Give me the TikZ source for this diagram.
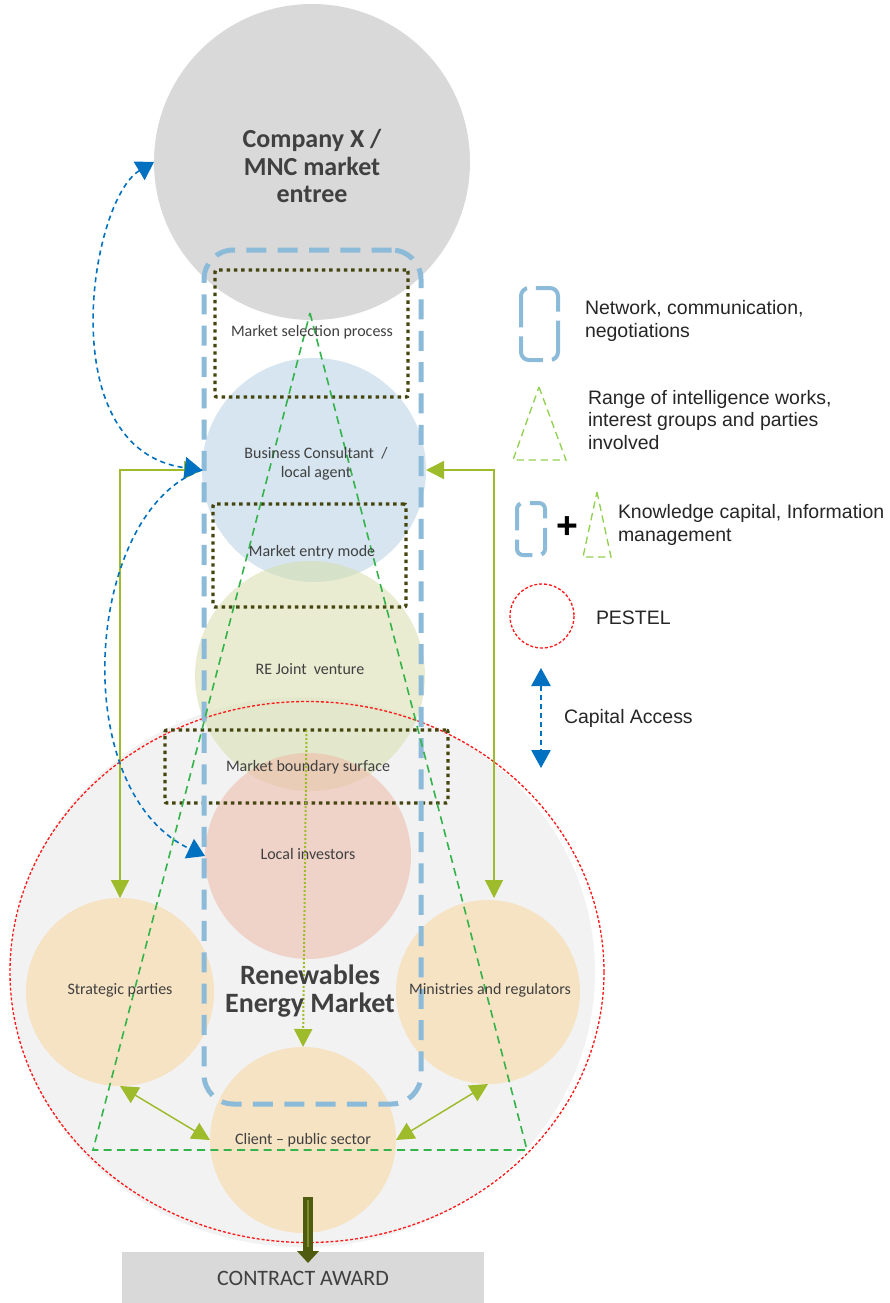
\documentclass[tikz,border=0pt]{standalone}
\usepackage{fontspec}
\setmainfont{Carlito}
\newfontfamily\legendfont{Liberation Sans}
\usetikzlibrary{arrows.meta,calc,shapes.geometric}

\definecolor{inkgray}{HTML}{404040}
\definecolor{legendink}{HTML}{262626}
\definecolor{companygray}{HTML}{D9D9D9}
\definecolor{marketgray}{HTML}{F2F2F2}
\definecolor{consultblue}{HTML}{B6D0E2}
\definecolor{jvgreen}{HTML}{D7DEAB}
\definecolor{investorpink}{HTML}{EEB8A6}
\definecolor{peach}{HTML}{F6E3C3}
\definecolor{netblue}{HTML}{8CBAD9}
\definecolor{boxolive}{HTML}{45450F}
\definecolor{rangegreen}{HTML}{33B44A}
\definecolor{legendgreen}{HTML}{92D050}
\definecolor{linkolive}{HTML}{9DBB2A}
\definecolor{capblue}{HTML}{0070C0}
\definecolor{pestelred}{HTML}{FF1A1A}
\definecolor{awardolive}{HTML}{4F5B0E}
\definecolor{awardlight}{HTML}{7D8C2C}

\tikzset{
  ltip/.tip={Triangle[length=13.5pt,width=13.5pt]},
  ctip/.tip={Triangle[length=13pt,width=16pt]},
  legtip/.tip={Triangle[length=13.5pt,width=14.5pt]},
}

\begin{document}
\begin{tikzpicture}[x=0.75pt,y=-0.75pt,
  every node/.style={inner sep=0pt,outer sep=0pt},
  bubble/.style={circle,minimum size=#1*1.5pt},
  bubbletext/.style={text=inkgray,font=\fontsize{12}{14.5}\selectfont,align=center},
  bigtext/.style={text=inkgray,font=\bfseries\fontsize{19.5}{20.5}\selectfont,align=center},
  stagebox/.style={draw=boxolive,line width=2.6pt,dash pattern=on 2.6pt off 2.9pt,rounded corners=1.5pt},
  network/.style={draw=netblue,line width=3.75pt,dash pattern=on 15pt off 8.5pt,rounded corners=22pt},
  rangeline/.style={draw=rangegreen,line width=1.2pt,dash pattern=on 6pt off 4pt},
  pestel/.style={draw=pestelred,line width=1pt,dash pattern=on 2.2pt off 1.5pt},
  link/.style={draw=linkolive,line width=1.1pt},
  capital/.style={draw=capblue,line width=1.2pt,dash pattern=on 3.8pt off 3pt},
  legendtext/.style={font=\legendfont\fontsize{14.6}{17.2}\selectfont,text=legendink,align=left,anchor=west}
]
% canvas
\path[fill=white,use as bounding box] (0,0) rectangle (889,1303);

% market area and PESTEL boundary
\node[ellipse,fill=marketgray,minimum width=438pt,minimum height=412.5pt] (market) at (303,972) {};

% actors
\node[bubble=158,fill=companygray] (co) at (312,162) {};
\node[bubble=112,fill=consultblue,fill opacity=0.55] (bc) at (314,470) {};
\node[bubble=115,fill=jvgreen,fill opacity=0.55] (jv) at (310,676) {};
\node[bubble=103,fill=investorpink,fill opacity=0.55] (li) at (308,856) {};
\node[bubble=94,fill=peach] (sp) at (120,992) {};
\node[bubble=92,fill=peach] (mr) at (488,992) {};
\node[bubble=93,fill=peach] (cl) at (303,1140) {};

\node[ellipse,pestel,minimum width=445.5pt,minimum height=405.75pt] (pest) at (307,972) {};

% process stages
\node[stagebox,minimum width=144.75pt,minimum height=95.25pt] (msp) at (311.5,333.5) {};
\node[stagebox,minimum width=144.75pt,minimum height=77.25pt] (mem) at (309.5,555.5) {};
\node[stagebox,minimum width=212.25pt,minimum height=54.75pt] (mbs) at (306.5,766.5) {};

% network, communication, negotiations
\node[network,minimum width=162.75pt,minimum height=640.5pt] (net) at (312.5,677) {};

% range of intelligence works
\coordinate (apex) at (310,313);
\coordinate (baseL) at (93,1150);
\coordinate (baseR) at (527,1150);
\draw[rangeline] (apex) -- (baseR) -- (baseL) -- cycle;

% links between the parties
\coordinate (mrtop) at (494,898);
\draw[link,ltip-ltip] (bc.west) -| (sp.north);
\draw[link,ltip-ltip] (bc.east) -| (mrtop);
\draw[link,line width=1.5pt,dash pattern=on 1.5pt off 1.5pt,-ltip] (mbs.north) -- (cl.north);
\draw[link,ltip-ltip] (sp.south) -- (cl.west);
\draw[link,ltip-ltip] (mr.south) -- (cl.east);

% capital access
\draw[capital,ctip-ctip] (co.west) .. controls (90,200) and (50,450) .. (bc.west);
\draw[capital,-ctip] (bc.west) .. controls (85,510) and (65,790) .. (li.west);

% contract award
\node[fill=companygray,minimum width=271.5pt,minimum height=39pt,text=inkgray,font=\fontsize{16.5}{16.5}\selectfont] (ca) at (303,1278) {CONTRACT AWARD};
\coordinate (awfrom) at (308,1197);
\coordinate (awto) at (308,1263);
\draw[awardolive,line width=7pt,-{Triangle[length=9pt,width=16pt]}] (awfrom) -- (awto);
\draw[awardlight,line width=2pt] ($(awfrom)+(0,3)$) -- ($(awto)+(0,-16)$);

% labels
\node[bigtext] (co-t) at (312,166) {Company X /\\MNC market\\entree};
\node[bubbletext] (msp-t) at (312,332) {Market selection process};
\node[bubbletext] (bc-t) at (316,464) {Business Consultant~ /\\local agent};
\node[bubbletext] (mem-t) at (312,552) {Market entry mode};
\node[bubbletext] (jv-t) at (310,669) {RE Joint~ venture};
\node[bubbletext] (mbs-t) at (308,767) {Market boundary surface};
\node[bubbletext] (li-t) at (308,854) {Local investors};
\node[bubbletext] (sp-t) at (120,990) {Strategic parties};
\node[bubbletext] (mr-t) at (490,990) {Ministries and regulators};
\node[bubbletext] (cl-t) at (303,1140) {Client – public sector};
\node[bigtext,font=\bfseries\fontsize{21}{21}\selectfont] (rem-t) at (310,991) {Renewables\\Energy Market};

% legend
\draw[netblue,line width=3pt,rounded corners=6pt,dash pattern=on 31.5pt off 6.75pt,dash phase=34.9pt]
  (539.5,288) -- (521,288) -- (521,360) -- (558,360) -- (558,288) -- cycle;
\node[legendtext] (lg-net) at (585,321) {Network, communication,\\negotiations};

\draw[legendgreen,line width=1pt,dash pattern=on 5.5pt off 3.5pt] (539,387) -- (566,460) -- (513,460) -- cycle;
\node[legendtext] (lg-range) at (588,420) {Range of intelligence works,\\interest groups and parties\\involved};

\draw[netblue,line width=3pt,rounded corners=4.5pt,dash pattern=on 21pt off 7pt,dash phase=24.5pt]
  (531,503) -- (517,503) -- (517,555) -- (545,555) -- (545,503) -- cycle;
\node[font=\legendfont\bfseries\fontsize{28}{28}\selectfont,text=black] (lg-plus) at (567,528) {+};
\draw[legendgreen,line width=1pt,dash pattern=on 5.5pt off 3.5pt] (597,492) -- (611,557) -- (583,557) -- cycle;
\node[legendtext] (lg-know) at (618,525) {Knowledge capital, Information\\management};

\draw[pestel] (542,616) circle[radius=32];
\node[legendtext] (lg-pestel) at (596,618) {PESTEL};

\coordinate (capA) at (541,668);
\coordinate (capB) at (541,768);
\draw[capital,legtip-legtip] (capA) -- (capB);
\node[legendtext] (lg-cap) at (564,718) {Capital Access};
\end{tikzpicture}
\end{document}
